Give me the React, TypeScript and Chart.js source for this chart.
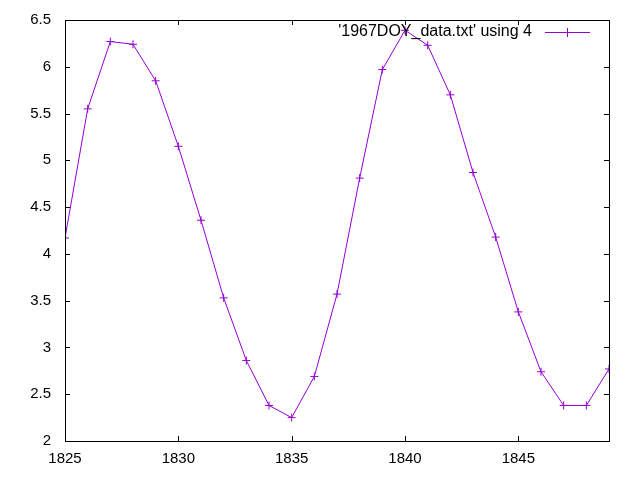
import React, { useEffect, useRef } from "react";
import { Chart, registerables } from "chart.js";

Chart.register(...registerables);

const years = [1825, 1826, 1827, 1828, 1829, 1830, 1831, 1832, 1833, 1834, 1835, 1836, 1837, 1838, 1839, 1840, 1841, 1842, 1843, 1844, 1845, 1846, 1847, 1848, 1849];
const values = [4.17, 5.55, 6.27, 6.24, 5.85, 5.15, 4.36, 3.53, 2.86, 2.38, 2.25, 2.69, 3.57, 4.81, 5.97, 6.39, 6.23, 5.7, 4.87, 4.18, 3.38, 2.74, 2.38, 2.38, 2.77];
const xTicks = [1825, 1830, 1835, 1840, 1845];
const yTicks = [2, 2.5, 3, 3.5, 4, 4.5, 5, 5.5, 6, 6.5];
const seriesLabel = "'1967DOY_data.txt' using 4";
const COLOR = "#9400D3";
const FONT = "Liberation Sans, Arial, sans-serif";

const frame = {
  id: "gnuFrame",
  afterDraw(chart: any) {
    const { ctx, chartArea: a, scales } = chart;
    ctx.save();
    ctx.strokeStyle = "#000";
    ctx.lineWidth = 1;
    ctx.strokeRect(Math.round(a.left) + 0.5, Math.round(a.top) + 0.5, Math.round(a.right - a.left), Math.round(a.bottom - a.top));
    const t = 5;
    ctx.beginPath();
    for (const v of xTicks) {
      const x = Math.round(scales.x.getPixelForValue(v)) + 0.5;
      ctx.moveTo(x, a.bottom);
      ctx.lineTo(x, a.bottom - t);
      ctx.moveTo(x, a.top);
      ctx.lineTo(x, a.top + t);
    }
    for (const v of yTicks) {
      const y = Math.round(scales.y.getPixelForValue(v)) + 0.5;
      ctx.moveTo(a.left, y);
      ctx.lineTo(a.left + t, y);
      ctx.moveTo(a.right, y);
      ctx.lineTo(a.right - t, y);
    }
    ctx.stroke();
    // key
    const ky = 32;
    ctx.fillStyle = "#000";
    ctx.font = "16px " + FONT;
    ctx.textAlign = "right";
    ctx.textBaseline = "middle";
    ctx.fillText(seriesLabel, 532, ky);
    ctx.strokeStyle = COLOR;
    ctx.beginPath();
    ctx.moveTo(545, ky + 0.5);
    ctx.lineTo(590, ky + 0.5);
    ctx.moveTo(567.5, ky - 4);
    ctx.lineTo(567.5, ky + 5);
    ctx.moveTo(563, ky + 0.5);
    ctx.lineTo(572, ky + 0.5);
    ctx.stroke();
    ctx.restore();
  },
};

export default function App() {
  const ref = useRef<HTMLCanvasElement>(null);
  useEffect(() => {
    document.body.style.margin = "0";
    const chart = new Chart(ref.current!, {
      type: "line",
      data: {
        datasets: [
          {
            label: seriesLabel,
            data: years.map((y, i) => ({ x: y, y: values[i] })),
            borderColor: COLOR,
            backgroundColor: COLOR,
            borderWidth: 1,
            pointStyle: "cross",
            pointRadius: 4,
            pointBorderWidth: 1,
            tension: 0,
          },
        ],
      },
      options: {
        animation: false,
        responsive: false,
        layout: { padding: { top: 20, right: 31, left: 0, bottom: 0 } },
        plugins: { legend: { display: false }, tooltip: { enabled: false } },
        scales: {
          x: {
            type: "linear",
            min: 1825,
            max: 1849,
            afterBuildTicks: (s: any) => {
              s.ticks = xTicks.map((v) => ({ value: v }));
            },
            afterFit: (s: any) => {
              s.height = 39;
              s.paddingLeft = 0;
              s.paddingRight = 0;
            },
            grid: { display: false, drawTicks: false },
            border: { display: false },
            ticks: { color: "#000", font: { family: FONT, size: 15 }, padding: 9, maxRotation: 0, callback: (v: any) => String(v) },
          },
          y: {
            type: "linear",
            min: 2,
            max: 6.5,
            afterBuildTicks: (s: any) => {
              s.ticks = yTicks.map((v) => ({ value: v }));
            },
            afterFit: (s: any) => {
              s.width = 65;
              s.paddingTop = 0;
              s.paddingBottom = 0;
            },
            grid: { display: false, drawTicks: false },
            border: { display: false },
            ticks: { color: "#000", font: { family: FONT, size: 15 }, padding: 14, callback: (v: any) => String(v) },
          },
        },
      },
      plugins: [frame],
    });
    return () => chart.destroy();
  }, []);
  return (
    <div style={{ position: "absolute", left: 0, top: 0, width: 640, height: 480, background: "#fff" }}>
      <canvas ref={ref} width={640} height={480} style={{ width: 640, height: 480 }} />
    </div>
  );
}
